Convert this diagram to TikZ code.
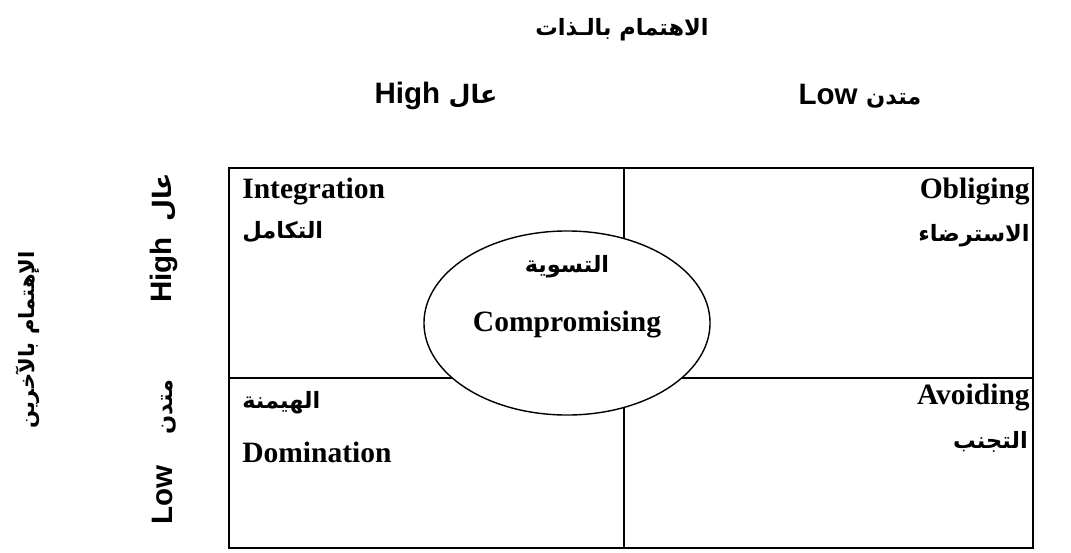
\documentclass[tikz,border=0pt]{standalone}
\usepackage{fontspec}
\setmainfont{Liberation Serif}
\newfontfamily\headfont{Liberation Sans}
\newfontfamily\arabicfont[Script=Arabic]{DejaVu Sans}
\TeXXeTstate=1
\usetikzlibrary{shapes.geometric}

\begin{document}
\begin{tikzpicture}[x=0.025cm,y=-0.025cm,
  eng/.style={font=\fontsize{21}{25}\selectfont\bfseries, inner sep=0pt},
  arb/.style={font=\fontsize{16}{20}\selectfont\arabicfont\bfseries, inner sep=0pt},
  axis/.style={font=\fontsize{16}{20}\selectfont\arabicfont\bfseries, inner sep=0pt},
  level/.style={font=\fontsize{21}{25}\selectfont\headfont\bfseries, inner sep=0pt}]
\useasboundingbox (0,0) rectangle (1071,552);

% the grid
\coordinate (tl) at (229,168);
\coordinate (br) at (1033,548);
\coordinate (tm) at (624,168);
\coordinate (bm) at (624,548);
\coordinate (lm) at (229,378);
\coordinate (rm) at (1033,378);
\draw[line width=1.5pt] (tl) rectangle (br);
\draw[line width=1.2pt] (tm) -- (bm);
\draw[line width=1.2pt] (lm) -- (rm);

% compromising in the middle
\node[shape=ellipse, draw, fill=white, line width=1pt, minimum width=7.15cm, minimum height=4.6cm] (comp) at (567,323) {};
\node[arb] (compar) at (567,267) {\beginR التسوية\endR};
\node[eng] (compen) at (567,325) {Compromising};

% the four corners
\node[eng, anchor=west] (integ) at (242,192) {Integration};
\node[arb, anchor=west] (integar) at (242,232) {\beginR التكامل\endR};
\node[eng, anchor=east] (oblig) at (1030,192) {Obliging};
\node[arb, anchor=east] (obligar) at (1030,236) {\beginR الاسترضاء\endR};
\node[arb, anchor=west] (domar) at (242,403) {\beginR الهيمنة\endR};
\node[eng, anchor=west] (dom) at (242,452) {Domination};
\node[eng, anchor=east] (avoid) at (1030,398) {Avoiding};
\node[arb, anchor=east] (avoidar) at (1028,442) {\beginR التجنب\endR};

% concern for self
\node[axis] (self) at (622,30) {\beginR الاهتمام بالـذات\endR};
\node[level] (selfhigh) at (436,96) {High\hspace{6pt}{\arabicfont\fontsize{18}{20}\selectfont\beginR عال\endR}};
\node[level] (selflow) at (860,96) {Low\hspace{6pt}{\arabicfont\fontsize{16}{18}\selectfont\beginR متدن\endR}};

% concern for others
\node[axis, font=\fontsize{15}{18}\selectfont\arabicfont\bfseries, rotate=90] (others) at (28,340) {\beginR الإهتمام بالآخرين\endR};
\node[level, rotate=90] (othhigh) at (164,238) {High\hspace{11pt}{\arabicfont\fontsize{18}{20}\selectfont\beginR عال\endR}};
\node[level, rotate=90] (othlow) at (164,452) {Low\hspace{22pt}{\arabicfont\fontsize{16}{18}\selectfont\beginR متدن\endR}};
\end{tikzpicture}
\end{document}
